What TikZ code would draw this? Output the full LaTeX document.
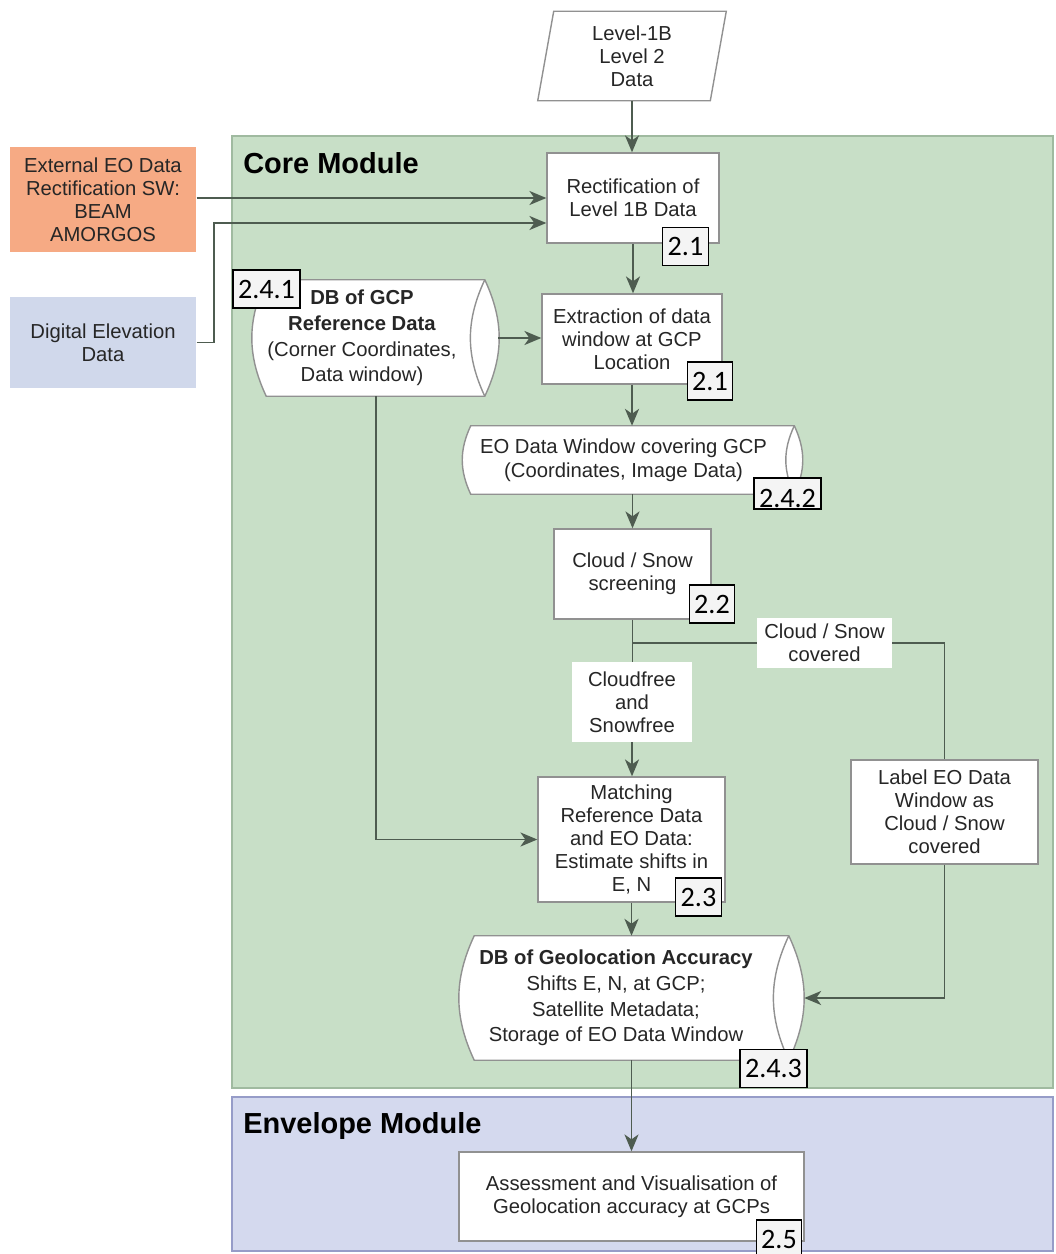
\documentclass[tikz,border=0pt]{standalone}
\usepackage{fontspec}
\setmainfont{Liberation Sans}
\newfontfamily\tagfont{Carlito}
\usepackage{xcolor}
\usepackage{tikz}
\usetikzlibrary{positioning,calc,arrows.meta}

\definecolor{coregreen}{RGB}{200,223,199}
\definecolor{coreedge}{RGB}{160,186,160}
\definecolor{envblue}{RGB}{212,217,238}
\definecolor{envedge}{RGB}{150,156,200}
\definecolor{extorange}{RGB}{246,170,132}
\definecolor{demblue}{RGB}{208,216,235}
\definecolor{linegrey}{RGB}{78,92,80}
\definecolor{boxedge}{RGB}{145,145,145}
\definecolor{tagfill}{RGB}{244,244,244}

\pgfdeclarelayer{bg}
\pgfdeclarelayer{mid}
\pgfsetlayers{bg,mid,main}

\newcommand{\pxl}{0.025cm}
% outline of a stored-data drum around a node: name, end depth
\newcommand{\dbdraw}[2]{%
  \begin{pgfonlayer}{mid}
    \draw[dbline] ($(#1.north west)+(#2,0)$) -- ($(#1.north east)+(#2,0)$)
      to[bend left=25] ($(#1.south east)+(#2,0)$)
      -- ($(#1.south west)+(#2,0)$)
      to[bend left=25] ($(#1.north west)+(#2,0)$) -- cycle;
    \draw[dbline,fill=none] ($(#1.north east)+(#2,0)$)
      to[bend right=25] ($(#1.south east)+(#2,0)$);
  \end{pgfonlayer}
  \coordinate (#1-rim) at ($(#1.east)+(2*#2,0)$);}

\begin{document}
\begin{tikzpicture}[x=0.025cm,y=0.025cm,
    every node/.style={font=\fontsize{14.4}{16.3}\selectfont, align=center, inner sep=0pt, text=black!85},
    box/.style 2 args={draw=boxedge, line width=1pt, fill=white, minimum width=#1*\pxl, minimum height=#2*\pxl},
    store/.style 2 args={minimum width=#1*\pxl, minimum height=#2*\pxl, font=\fontsize{14.4}{18.3}\selectfont},
    flowlabel/.style 2 args={fill=white, minimum width=#1*\pxl, minimum height=#2*\pxl},
    dbline/.style={draw=boxedge, line width=1pt, fill=white},
    title/.style={font=\fontsize{20.6}{24}\selectfont\bfseries, text=black},
    numtag/.style={draw=black, line width=0.9pt, fill=tagfill, text=black,
      font=\tagfont\fontsize{20}{22}\selectfont, inner xsep=3.5pt, minimum height=38*\pxl},
    wire/.style={draw=linegrey, line width=1.3pt},
    arr/.style={wire, -{Stealth[length=12pt,width=10pt,inset=3.5pt]}}]

  \useasboundingbox (0,0) rectangle (1055,-1254);

  % modules
  \begin{pgfonlayer}{bg}
    \fill[white] (0,0) rectangle (1055,-1254);
    \draw[coreedge, fill=coregreen, line width=1pt] (232,-136) rectangle (1053,-1088);
    \draw[envedge, fill=envblue, line width=1pt] (232,-1097) rectangle (1053,-1251);
  \end{pgfonlayer}
  \node[title, anchor=base west] (coretitle) at (243,-174) {Core Module};
  \node[title, anchor=base west] (envtitle) at (243,-1133) {Envelope Module};

  % input data
  \node[minimum width=172*\pxl, minimum height=89*\pxl] (level) at (632,-56) {Level-1B\\Level 2\\Data};
  \draw[draw=boxedge, line width=1pt] ($(level.south west)+(-8,0)$) -- ($(level.north west)+(8,0)$)
    -- ($(level.north east)+(8,0)$) -- ($(level.south east)+(-8,0)$) -- cycle;
  \node[box={186}{105}, fill=extorange, draw=none] (external) at (103,-199.5) {External EO Data\\Rectification SW:\\BEAM\\AMORGOS};
  \node[box={186}{91}, fill=demblue, draw=none] (dem) at (103,-342.5) {Digital Elevation\\Data};

  % core chain
  \node[box={172}{90}] (rect) at (633,-198) {Rectification of\\Level 1B Data};
  \node[box={180}{90}] (extract) at (632,-339) {Extraction of data\\window at GCP\\Location};
  \node[store={218}{116}] (gcpdb) at (362,-338) {\textbf{DB of GCP}\\\textbf{Reference Data}\\(Corner Coordinates,\\Data window)};
  \dbdraw{gcpdb}{13.5}
  \node[store={323}{68}, font=\fontsize{14.4}{17}\selectfont] (eowin) at (623.5,-460) {EO Data Window covering GCP\\(Coordinates, Image Data)};
  \dbdraw{eowin}{9}
  \node[box={157}{90}] (cloud) at (632.5,-574) {Cloud / Snow\\screening};
  \node[flowlabel={120}{80}] (cfree) at (632,-702) {Cloudfree\\and\\Snowfree};
  \node[flowlabel={135}{50}] (cover) at (824.5,-643) {Cloud / Snow\\covered};
  \node[box={187}{125}] (match) at (631.5,-839.5) {Matching\\Reference Data\\and EO Data:\\Estimate shifts in\\E, N};
  \node[box={187}{104}] (labeleo) at (944.5,-812) {Label EO Data\\Window as\\Cloud / Snow\\covered};
  \node[store={314}{124}] (geodb) at (616,-998) {\textbf{DB of Geolocation Accuracy}\\Shifts E, N, at GCP;\\Satellite Metadata;\\Storage of EO Data Window};
  \dbdraw{geodb}{15.5}
  \node[box={345}{89}] (assess) at (631.5,-1196.5) {Assessment and Visualisation of\\Geolocation accuracy at GCPs};

  % connectors
  \draw[arr] (level.south) -- (level.south |- rect.north);
  \draw[arr] (rect.south) -- (rect.south |- extract.north);
  \draw[arr] (external.east |- rect.west) -- (rect.west);
  \draw[arr] (dem.east) -- ++(17,0) |- ($(rect.west)+(0,-25)$);
  \draw[arr] (gcpdb-rim) -- (extract.west |- gcpdb-rim);
  \draw[arr] (extract.south) -- (extract.south |- eowin.north);
  \draw[arr] (cloud.north |- eowin.south) -- (cloud.north);
  \draw[wire] (cloud.south) -- (cloud.south |- cfree.north);
  \draw[arr] (cfree.south) -- (cfree.south |- match.north);
  \draw[wire] (cloud.south |- cover.west) -- (cover.west);
  \draw[wire] (cover.east) -| (labeleo.north);
  \draw[arr] (labeleo.south) |- (geodb-rim);
  \draw[arr] ($(gcpdb.south)+(14,0)$) |- (match.west);
  \draw[arr] (match.south) -- (match.south |- geodb.north);
  \draw[arr] (assess.north |- geodb.south) -- (assess.north);

  % section numbers
  \node[numtag] (tagrect) at (685.5,-246.5) {2.1};
  \node[numtag] (tagextract) at (710,-381) {2.1};
  \node[numtag] (taggcp) at (266.5,-289) {2.4.1};
  \node[numtag, minimum height=0pt, inner ysep=1pt, text height=20pt, text depth=0pt] (tageowin) at (787.5,-493.5) {2.4.2};
  \node[numtag] (tagcloud) at (712,-604) {2.2};
  \node[numtag] (tagmatch) at (698.5,-897) {2.3};
  \node[numtag] (taggeo) at (773.5,-1068.5) {2.4.3};
  \node[numtag] (tagassess) at (779,-1239) {2.5};
\end{tikzpicture}
\end{document}
